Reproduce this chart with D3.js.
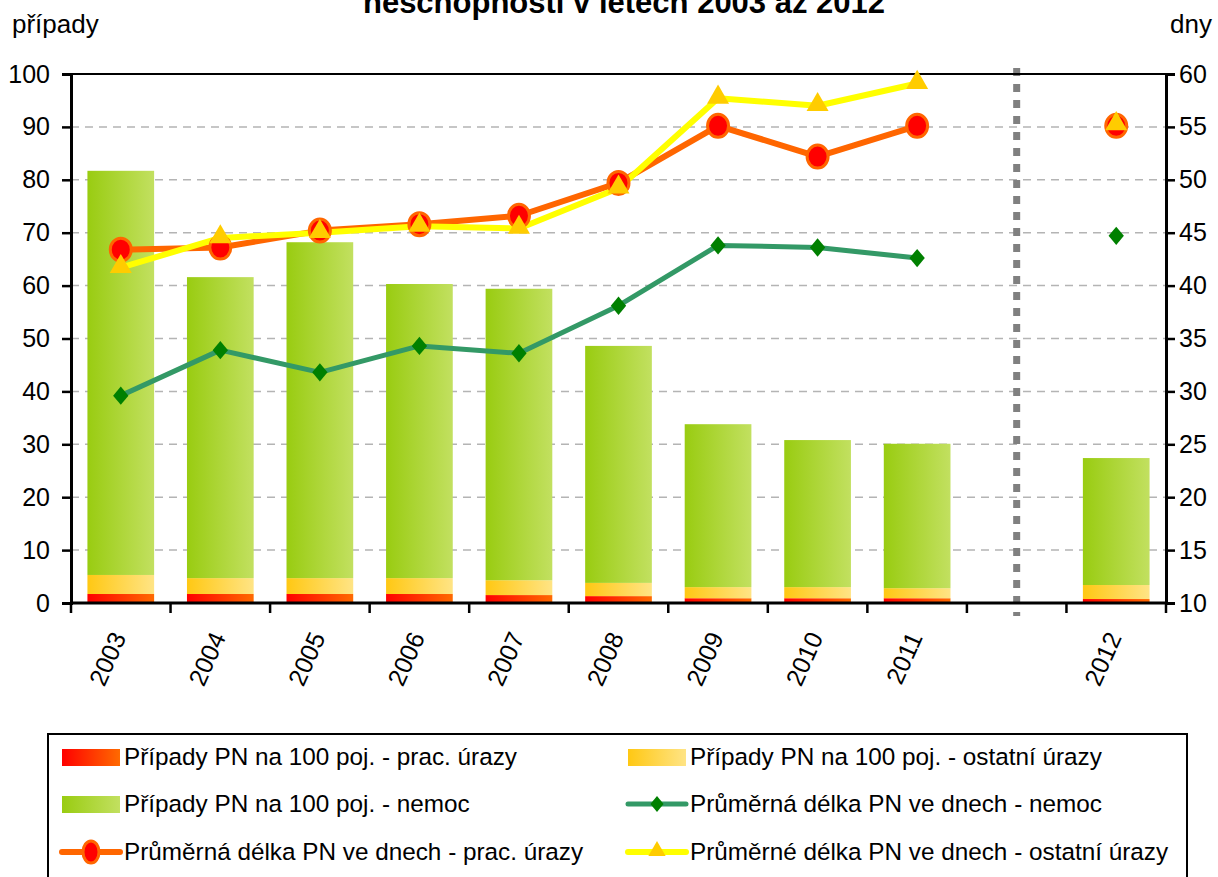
<!DOCTYPE html>
<html>
<head>
<meta charset="utf-8">
<script src="https://cdn.jsdelivr.net/npm/d3@7"></script>
<style>
  body { margin: 0; background: #fff; }
  svg { display: block; font-family: "Liberation Sans", Arial, sans-serif; }
</style>
</head>
<body>
<div id="chart"></div>
<script>
// categories (empty slot between 2011 and 2012)
const years = ["2003", "2004", "2005", "2006", "2007", "2008", "2009", "2010", "2011", "", "2012"];

// cases per 100 insured (left axis)
const pracUrazy    = [1.7, 1.7, 1.7, 1.7, 1.5, 1.3, 0.9, 0.9, 0.9, null, 0.75];
const ostatniUrazy = [3.6, 3.0, 3.0, 3.0, 2.8, 2.5, 2.1, 2.1, 1.9, null, 2.65];
const nemoc        = [76.4, 56.9, 63.5, 55.6, 55.1, 44.8, 30.8, 27.8, 27.3, null, 24.0];

// average duration in days (right axis)
const delkaNemoc   = [29.6, 33.9, 31.8, 34.3, 33.6, 38.1, 43.8, 43.6, 42.6, null, 44.7];
const delkaPrac    = [43.4, 43.6, 45.2, 45.8, 46.6, 49.7, 55.1, 52.2, 55.1, null, 55.1];
const delkaOstatni = [41.7, 44.5, 45.0, 45.6, 45.4, 49.2, 57.7, 57.0, 59.1, null, 55.2];

const leftTicks = [0, 10, 20, 30, 40, 50, 60, 70, 80, 90, 100];
const rightTicks = [10, 15, 20, 25, 30, 35, 40, 45, 50, 55, 60];

const width = 1218, height = 877;
const margin = { top: 74, right: 52, bottom: 274, left: 71 };
const x0 = margin.left, x1 = width - margin.right, y0 = height - margin.bottom, y1 = margin.top;

const svg = d3.select("#chart").append("svg")
  .attr("width", width).attr("height", height);

const defs = svg.append("defs");
function grad(id, c0, c1) {
  const g = defs.append("linearGradient").attr("id", id)
    .attr("x1", "0%").attr("x2", "100%").attr("y1", "0%").attr("y2", "0%");
  g.append("stop").attr("offset", "0%").attr("stop-color", c0);
  g.append("stop").attr("offset", "100%").attr("stop-color", c1);
}
grad("gRed", "#ff0000", "#ff6a00");
grad("gYel", "#ffc813", "#ffe485");
grad("gGrn", "#99cc11", "#c2e060");

const x = d3.scaleBand().domain(years.map((d, i) => i)).range([x0, x1]).paddingInner(0.33).paddingOuter(0.165);
const xb = d3.scaleBand().domain(years.map((d, i) => i)).range([x0, x1]);
const yL = d3.scaleLinear().domain([0, 100]).range([y0, y1]);
const yR = d3.scaleLinear().domain([10, 60]).range([y0, y1]);
const cx = i => xb(i) + xb.bandwidth() / 2;

// title (clipped at top)
svg.append("text").attr("x", 624).attr("y", 13).attr("text-anchor", "middle")
  .attr("font-size", 31).attr("font-weight", "bold")
  .text("neschopnosti v letech 2003 až 2012");

svg.append("text").attr("x", 12).attr("y", 33).attr("font-size", 26).text("případy");
svg.append("text").attr("x", 1212).attr("y", 33).attr("font-size", 26).attr("text-anchor", "end").text("dny");

// gridlines
svg.append("g").selectAll("line").data(leftTicks.filter(d => d > 0 && d < 100)).join("line")
  .attr("x1", x0).attr("x2", x1).attr("y1", d => yL(d)).attr("y2", d => yL(d))
  .attr("stroke", "#b4b4b4").attr("stroke-width", 1.5).attr("stroke-dasharray", "8,6");

// stacked bars
const stackData = years.map((y, i) => ({ i, prac: pracUrazy[i], ost: ostatniUrazy[i], nem: nemoc[i] }))
  .filter(d => d.prac != null);
const stack = d3.stack().keys(["prac", "ost", "nem"])(stackData);
const fills = { prac: "url(#gRed)", ost: "url(#gYel)", nem: "url(#gGrn)" };
svg.append("g").selectAll("g").data(stack).join("g")
  .attr("fill", s => fills[s.key])
  .selectAll("rect").data(s => s).join("rect")
  .attr("x", d => x(d.data.i)).attr("width", x.bandwidth())
  .attr("y", d => yL(d[1])).attr("height", d => yL(d[0]) - yL(d[1]));

// separator in the empty slot
svg.append("line")
  .attr("x1", cx(9)).attr("x2", cx(9))
  .attr("y1", 68).attr("y2", 616)
  .attr("stroke", "#808080").attr("stroke-width", 7).attr("stroke-dasharray", "8,8");

// axes
svg.append("line").attr("x1", x0).attr("x2", x1).attr("y1", y1).attr("y2", y1)
  .attr("stroke", "#000").attr("stroke-width", 2);

const gL = svg.append("g").attr("transform", `translate(${x0},0)`)
  .call(d3.axisLeft(yL).tickValues(leftTicks).tickSize(9).tickPadding(12));
const gR = svg.append("g").attr("transform", `translate(${x1},0)`)
  .call(d3.axisRight(yR).tickValues(rightTicks).tickSize(9).tickPadding(4));
[gL, gR].forEach(g => {
  g.select(".domain").attr("stroke-width", 3);
  g.selectAll(".tick line").attr("stroke-width", 2.5);
  g.selectAll("text").attr("font-size", 25).attr("fill", "#000")
    .attr("font-family", "Liberation Sans, Arial, sans-serif");
});

svg.append("line").attr("x1", x0).attr("x2", x1).attr("y1", y0).attr("y2", y0)
  .attr("stroke", "#000").attr("stroke-width", 3);
svg.append("g").selectAll("line").data(d3.range(years.length + 1)).join("line")
  .attr("x1", i => x0 + i * xb.step()).attr("x2", i => x0 + i * xb.step())
  .attr("y1", y0).attr("y2", y0 + 10).attr("stroke", "#000").attr("stroke-width", 2.5);

svg.append("g").selectAll("text").data(years.map((d, i) => ({ d, i })).filter(o => o.d)).join("text")
  .attr("transform", o => `translate(${cx(o.i) + 6},${y0 + 34}) rotate(-66)`)
  .attr("text-anchor", "end").attr("font-size", 25)
  .text(o => o.d);

// lines
function series(vals) {
  return years.map((y, i) => ({ i, v: vals[i] })).filter(d => d.v != null);
}
const lineGen = d3.line().x(d => cx(d.i)).y(d => yR(d.v));
const inLine = d => d.i <= 8;

function drawLine(vals, color, w) {
  svg.append("path").datum(series(vals).filter(inLine))
    .attr("d", lineGen).attr("fill", "none").attr("stroke", color)
    .attr("stroke-width", w).attr("stroke-linejoin", "round");
}
drawLine(delkaNemoc, "#339966", 5);
drawLine(delkaPrac, "#ff6600", 6);
drawLine(delkaOstatni, "#ffff00", 6);

svg.append("g").selectAll("path").data(series(delkaNemoc)).join("path")
  .attr("d", d3.symbol(d3.symbolDiamond2, 150))
  .attr("transform", d => `translate(${cx(d.i)},${yR(d.v)}) scale(1,1.2)`)
  .attr("fill", "#008000");
svg.append("g").selectAll("ellipse").data(series(delkaPrac)).join("ellipse")
  .attr("cx", d => cx(d.i)).attr("cy", d => yR(d.v)).attr("rx", 10.5).attr("ry", 11.5)
  .attr("fill", "#ff0000").attr("stroke", "#ff6600").attr("stroke-width", 3);
svg.append("g").selectAll("path").data(series(delkaOstatni)).join("path")
  .attr("d", d3.symbol(d3.symbolTriangle, 210))
  .attr("transform", d => `translate(${cx(d.i)},${yR(d.v) - 1})`)
  .attr("fill", "#ffcc00");

// legend
const lg = svg.append("g");
lg.append("rect").attr("x", 48).attr("y", 734).attr("width", 1139).attr("height", 150)
  .attr("fill", "#fff").attr("stroke", "#000").attr("stroke-width", 2);

const legendItems = [
  { label: "Případy PN na 100 poj. - prac. úrazy", type: "bar", fill: "url(#gRed)" },
  { label: "Případy PN na 100 poj. - ostatní úrazy", type: "bar", fill: "url(#gYel)" },
  { label: "Případy PN na 100 poj. - nemoc", type: "bar", fill: "url(#gGrn)" },
  { label: "Průměrná délka PN ve dnech - nemoc", type: "nemoc" },
  { label: "Průměrná délka PN ve dnech - prac. úrazy", type: "prac" },
  { label: "Průměrné délka PN ve dnech - ostatní úrazy", type: "ost" }
];
const rowY = [757, 804, 852];
const colX = [62, 628];
legendItems.forEach((it, k) => {
  const sx = colX[k % 2], sy = rowY[Math.floor(k / 2)];
  const g = lg.append("g").attr("transform", `translate(${sx},${sy})`);
  if (it.type === "bar") {
    g.append("rect").attr("x", 0).attr("y", -8).attr("width", 58).attr("height", 17).attr("fill", it.fill);
  } else if (it.type === "nemoc") {
    g.append("line").attr("x1", 0).attr("x2", 58).attr("stroke", "#339966").attr("stroke-width", 5).attr("stroke-linecap", "round");
    g.append("path").attr("d", d3.symbol(d3.symbolDiamond2, 110)).attr("transform", "translate(29,0) scale(1,1.2)").attr("fill", "#008000");
  } else if (it.type === "prac") {
    g.append("line").attr("x1", 0).attr("x2", 58).attr("stroke", "#ff6600").attr("stroke-width", 6).attr("stroke-linecap", "round");
    g.append("ellipse").attr("cx", 29).attr("rx", 8).attr("ry", 11).attr("fill", "#ff0000").attr("stroke", "#ff6600").attr("stroke-width", 3);
  } else {
    g.append("line").attr("x1", 0).attr("x2", 58).attr("stroke", "#ffff00").attr("stroke-width", 6).attr("stroke-linecap", "round");
    g.append("path").attr("d", d3.symbol(d3.symbolTriangle, 130)).attr("transform", "translate(29,-1)").attr("fill", "#ffcc00");
  }
  g.append("text").attr("x", 62).attr("y", 8).attr("font-size", 24.3).text(it.label);
});
</script>
</body>
</html>
